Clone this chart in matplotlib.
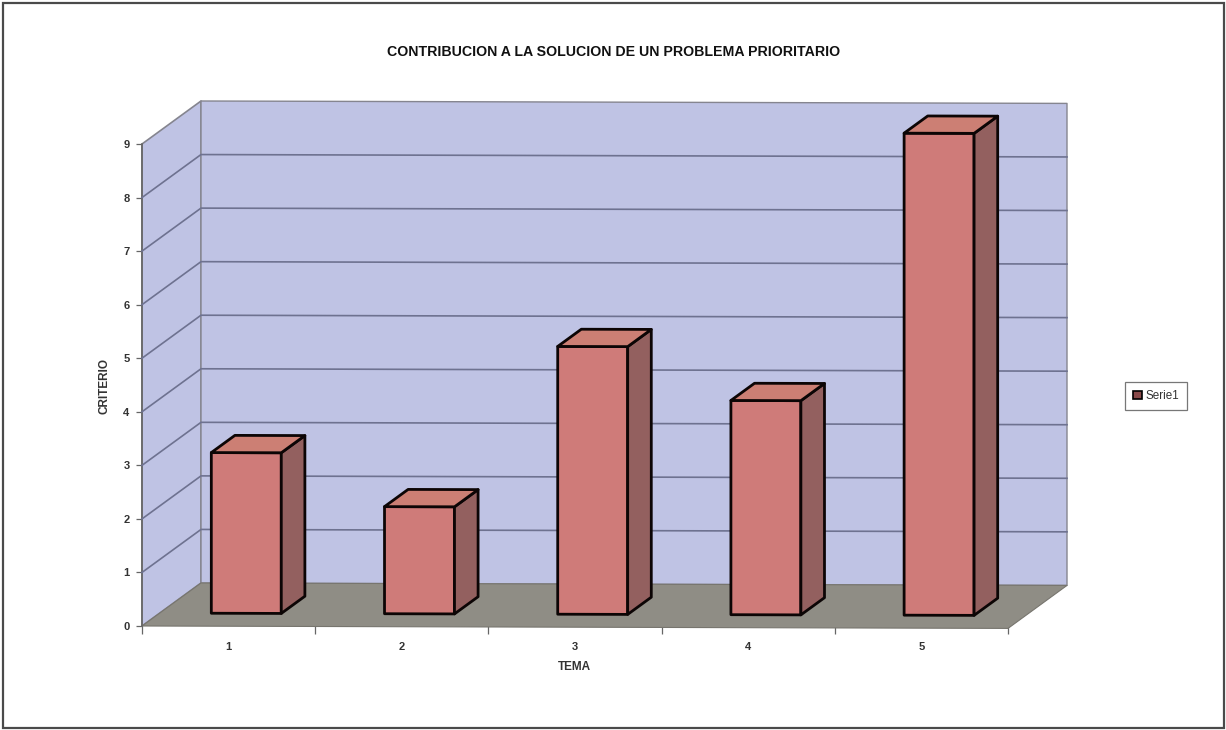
import matplotlib
matplotlib.use("Agg")
import matplotlib.pyplot as plt
from matplotlib.patches import Polygon, Patch, Rectangle

plt.rcParams['font.family'] = ['Liberation Sans', 'DejaVu Sans']

categories = [1, 2, 3, 4, 5]
values = [3, 2, 5, 4, 9]
y_ticks = list(range(0, 10))
title = "CONTRIBUCION A LA SOLUCION DE UN PROBLEMA PRIORITARIO"
x_label = "TEMA"
y_label = "CRITERIO"
series_name = "Serie1"

W, H = 1226, 730
fig = plt.figure(figsize=(W / 100, H / 100), dpi=100, facecolor='white')
fig.add_artist(Rectangle((3 / W, 1 - 728 / H), 1221 / W, 725 / H, transform=fig.transFigure,
                         fill=False, ec='#4a4a4a', lw=1.6))

ax = fig.add_axes([142 / W, 1 - 626 / H, 866 / W, 482 / H])
ax.set_xlim(0.5, 5.5)
ax.set_ylim(0, 9)
ax.patch.set_visible(False)

DX = 59 / 173.2     # depth shift, categories
DY = 43 / 53.55     # depth shift, value units
TILT = 0.045        # slight scan skew, value units across the plot
XMIN, XMAX = 0.5, 5.5
BAR_W = 0.404
D0, D1 = 0.3, 0.7


def proj(x, y, d=0.0):
    return (x + d * DX, y + d * DY - TILT * (x - XMIN) / (XMAX - XMIN))


def poly(pts, fc, ec, lw, z):
    ax.add_patch(Polygon([proj(*p) for p in pts], closed=True, fc=fc, ec=ec, lw=lw,
                         zorder=z, clip_on=False, joinstyle='round'))


WALL, FLOOR, GRID = '#BFC3E4', '#8F8D85', '#6E7290'
FRONT, SIDE, TOP = '#CF7B79', '#93605F', '#CC7F74'
top_v = y_ticks[-1]

poly([(XMIN, 0, 0), (XMIN, top_v, 0), (XMIN, top_v, 1), (XMIN, 0, 1)], WALL, '#85858f', 1.2, 1)
poly([(XMIN, 0, 1), (XMIN, top_v, 1), (XMAX, top_v, 1), (XMAX, 0, 1)], WALL, '#85858f', 1.0, 1)
poly([(XMIN, 0, 0), (XMAX, 0, 0), (XMAX, 0, 1), (XMIN, 0, 1)], FLOOR, '#77756e', 0.8, 2)

for v in y_ticks[1:-1]:
    a, b, c = proj(XMIN, v, 0), proj(XMIN, v, 1), proj(XMAX, v, 1)
    ax.plot([a[0], b[0], c[0]], [a[1], b[1], c[1]], color=GRID, lw=1.2, zorder=3, clip_on=False)

for cat, val in zip(categories, values):
    l, r = cat - BAR_W / 2, cat + BAR_W / 2
    poly([(l, 0, D0), (r, 0, D0), (r, val, D0), (l, val, D0)], FRONT, '#0c0505', 2.0, 5)
    poly([(r, 0, D0), (r, 0, D1), (r, val, D1), (r, val, D0)], SIDE, '#0c0505', 2.0, 5)
    poly([(l, val, D0), (r, val, D0), (r, val, D1), (l, val, D1)], TOP, '#0c0505', 2.0, 5)

for s in ('top', 'right', 'bottom'):
    ax.spines[s].set_visible(False)
ax.spines['left'].set_color('#666666')
ax.spines['left'].set_linewidth(1.2)

ax.set_yticks(y_ticks)
ax.set_yticklabels([str(v) for v in y_ticks], fontsize=8, fontweight='bold', color='#333333')
ax.tick_params(axis='y', length=4, width=0.9, color='#666666', pad=5)
ax.set_xticks([c - 0.5 for c in categories] + [categories[-1] + 0.5])
ax.set_xticklabels([])
ax.set_xticks(categories, minor=True)
ax.set_xticklabels([str(c) for c in categories], minor=True, fontsize=8,
                   fontweight='bold', color='#333333')
ax.tick_params(axis='x', which='major', length=6, width=0.9, color='#666666')
ax.tick_params(axis='x', which='minor', length=0, pad=11.5)

fig.text(614 / W, 1 - 52 / H, title, ha='center', va='center', fontsize=10.2,
         fontweight='bold', color='#111111')
fig.text(574 / W, 1 - 667 / H, x_label, ha='center', va='center', fontsize=8.5,
         fontweight='bold', color='#333333')
fig.text(104 / W, 1 - 386 / H, y_label, ha='center', va='center', rotation=90,
         fontsize=8.5, fontweight='bold', color='#333333')

leg = fig.legend(handles=[Patch(fc='#8a4a4a', ec='black', lw=1.2, label=series_name)],
                 loc='center', bbox_to_anchor=(1156 / W, 1 - 396 / H), frameon=True,
                 fontsize=8.4, fancybox=False, edgecolor='#777777', framealpha=1,
                 handlelength=0.75, handleheight=0.75, handletextpad=0.3,
                 borderpad=0.65, borderaxespad=0)
leg.get_frame().set_linewidth(0.9)
for t in leg.get_texts():
    t.set_color('#333333')

fig.savefig('out.png', dpi=100, facecolor='white')
